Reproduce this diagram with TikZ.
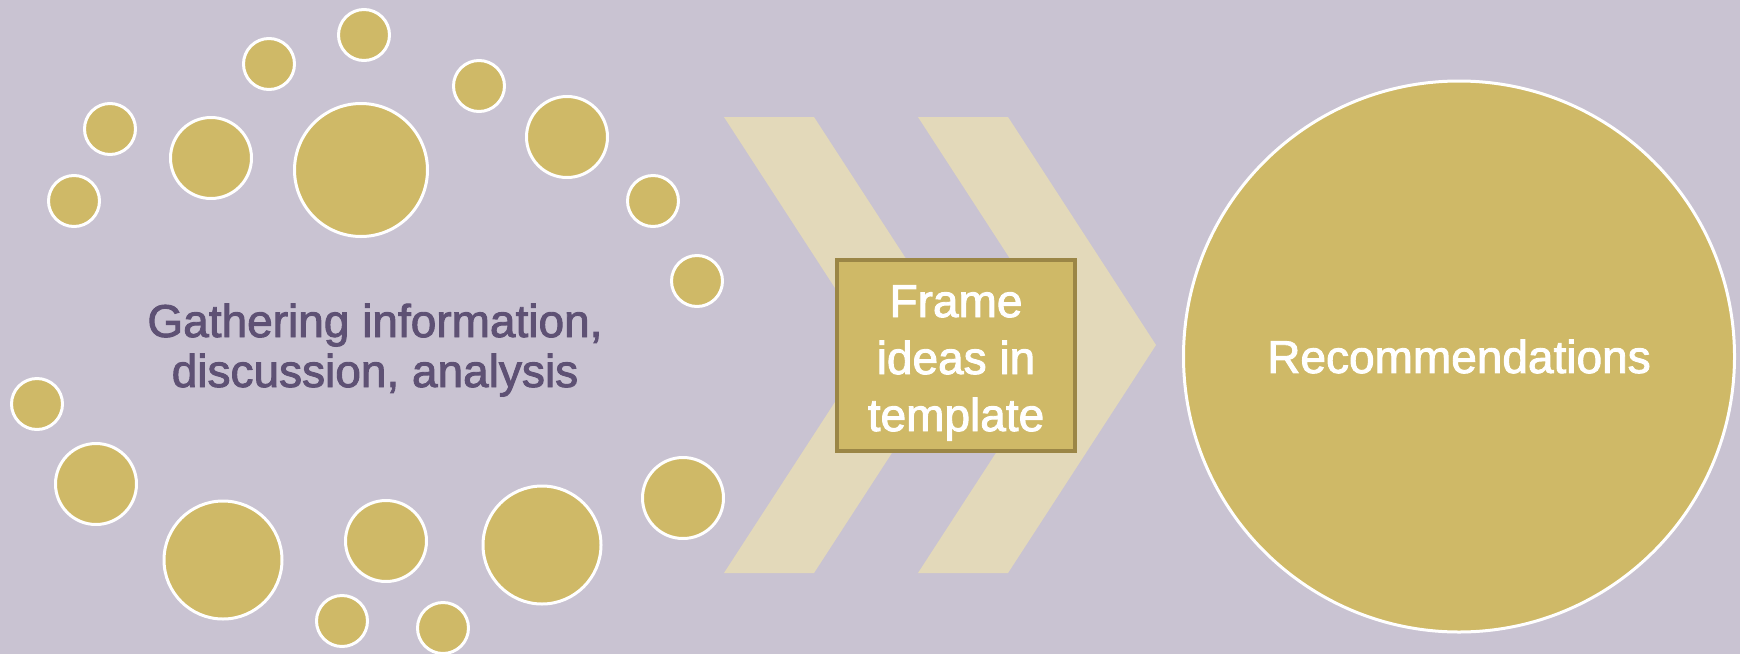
\documentclass[tikz,border=0pt]{standalone}
\usepackage{fontspec}
\setmainfont{Liberation Sans}[FakeBold=2]
\newfontfamily\diagfont{Liberation Sans}[FakeBold=2]
\definecolor{bgc}{HTML}{C9C3D2}
\definecolor{gold}{HTML}{CFB967}
\definecolor{chev}{HTML}{E3D9BA}
\definecolor{txtp}{HTML}{5E5174}
\definecolor{boxb}{HTML}{9B8646}
\tikzset{
  dot/.style={circle, fill=gold, draw=white, line width=3pt, inner sep=0pt, minimum size=#1},
  chevshape/.style={fill=chev, draw=none},
  bigtext/.style={font=\diagfont\fontsize{46}{50}\selectfont}
}
\begin{document}
\begin{tikzpicture}[x=1pt,y=-1pt]
\fill[bgc] (0,0) rectangle (1740,654);
\useasboundingbox (0,0) rectangle (1740,654);
% chevrons
\fill[chevshape] (724,117) -- (814,117) -- (962,345) -- (814,573) -- (724,573) -- (872,345) -- cycle;
\fill[chevshape] (918,117) -- (1008,117) -- (1156,345) -- (1008,573) -- (918,573) -- (1066,345) -- cycle;
% small circles (outer radius r -> size 2r-3)
\node[dot=51pt] (c1) at (364,35) {};
\node[dot=51pt] (c2) at (269,64) {};
\node[dot=51pt] (c3) at (479,86) {};
\node[dot=51pt] (c4) at (110,129) {};
\node[dot=51pt] (c5) at (74,201) {};
\node[dot=81pt] (c6) at (211,158) {};
\node[dot=133pt] (c7) at (361,170) {};
\node[dot=81pt] (c8) at (567,137) {};
\node[dot=51pt] (c9) at (653,201) {};
\node[dot=51pt] (c10) at (697,281) {};
\node[dot=51pt] (c11) at (37,404) {};
\node[dot=81pt] (c12) at (96,484) {};
\node[dot=118pt] (c13) at (223,560) {};
\node[dot=81pt] (c14) at (386,541) {};
\node[dot=118pt] (c15) at (542,545) {};
\node[dot=81pt] (c16) at (683,498) {};
\node[dot=51pt] (c17) at (342,621) {};
\node[dot=51pt] (c18) at (443,628) {};
% left text
\node[bigtext, text=txtp, align=center, anchor=base, inner sep=0pt] (gather) at (375,387)
  {Gathering information,\\discussion, analysis};
% frame box
\node[rectangle, fill=gold, draw=boxb, line width=4pt, minimum width=238pt, minimum height=191pt,
      inner sep=0pt] (frame) at (956,355.5) {};
\node[text=white, align=center, inner sep=0pt, anchor=base,
      font=\diagfont\fontsize{46}{57}\selectfont] (frametext) at ([yshift=-75.5pt]frame.center)
  {Frame\\ideas in\\template};
% big circle
\node[circle, fill=gold, draw=white, line width=3pt, minimum size=551pt, inner sep=0pt,
      text=white, bigtext] (reco) at (1459,356.5) {Recommendations};
\end{tikzpicture}
\end{document}
